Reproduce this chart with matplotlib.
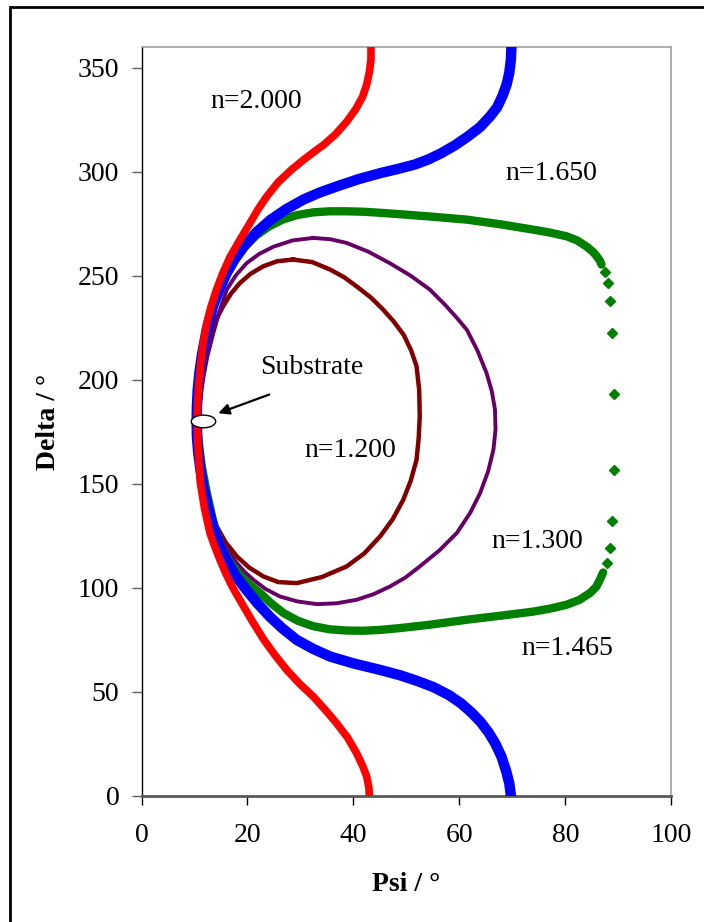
import numpy as np
import matplotlib.pyplot as plt
from matplotlib.patches import Ellipse, Rectangle

plt.rcParams['font.family'] = ['Liberation Serif', 'DejaVu Serif']

# n=2.000 (red)
red_psi = [43.3, 43.3, 43.0, 42.5, 41.7, 40.4, 38.7, 36.6, 34.4, 33.3, 30.7, 28.3, 25.8, 23.6,
           22.0, 20.5, 18.5, 16.7, 15.3, 14.1, 13.1, 12.3, 11.6, 11.1, 10.8, 10.6, 10.5,
           10.6, 10.8, 11.1, 11.9, 12.9, 13.8, 14.8, 15.9, 17.1, 18.9, 20.9, 23.1, 25.1,
           27.4, 29.8, 32.4, 34.8, 36.8, 38.9, 40.6, 41.8, 42.5, 42.9, 43.0]
red_delta = [360, 354, 348, 342, 336, 330, 324, 318, 313, 311, 306, 301, 295, 288,
             282, 275.5, 267, 259, 251, 243, 235, 227, 217, 206.5, 198, 190, 180,
             170, 162, 150.5, 138, 126.5, 120, 113.5, 107, 100.7, 92.7, 84, 75, 68,
             60.6, 54, 47.8, 41, 35, 28, 20.5, 14, 9.3, 4, 0]

# n=1.650 (blue)
blue_psi = [69.8, 69.7, 69.4, 68.9, 68.1, 67.1, 65.8, 63.9, 61.6, 59.2, 56.6, 54.2, 51.6,
            48.6, 45.3, 41.0, 36.9, 33.6, 30.6, 27.3, 24.4, 21.7, 19.3, 17.6, 16.1, 14.7,
            13.5, 12.3, 11.4, 10.9, 10.6, 10.45, 10.4, 10.45, 10.7, 11.1, 11.7, 12.6, 13.9,
            14.9, 16.0, 17.7, 19.8, 21.9, 24.2, 26.6, 29.3, 32.3, 35.6, 40.0, 45.0, 48.8,
            52.0, 55.1, 58.0, 60.3, 62.3, 64.0, 65.5, 66.8, 67.9, 68.8, 69.4, 69.7]
blue_delta = [360, 354, 347.6, 342, 336.4, 331, 326.7, 321.5, 317, 312.8, 309, 306, 303.5,
              301.5, 299.5, 296.5, 293, 290, 286.7, 282, 277, 271, 264, 258, 251.4, 243.5,
              235.4, 224, 212, 203, 195, 187, 180, 173, 165, 157, 148, 138, 126,
              119, 113.5, 106, 99, 92.5, 86.2, 80.5, 75, 70.8, 67, 63.7, 60.6, 58.0,
              55.3, 52.3, 48.5, 44.5, 40.0, 35.5, 30.5, 25.0, 19.0, 12.0, 6.0, 0]

# n=1.465 (green) - dense part of the trajectory
green_psi = [86.8, 86.5, 85.9, 85.2, 84.0, 82.2, 80.2, 77.0, 73.9, 67.6, 61.4, 54.4, 48.8,
             45.0, 41.8, 38.7, 35.5, 32.4, 29.4, 26.8, 24.1, 21.7, 19.0, 16.7, 14.8, 13.6,
             12.5, 11.6, 10.9, 10.6, 10.6, 10.8, 11.4, 12.3, 13.7, 15.0, 16.5, 18.6, 20.4,
             22.4, 24.5, 26.8, 29.5, 32.4, 35.5, 38.7, 41.8, 45.0, 48.8, 54.4, 61.4, 67.6,
             73.9, 77.2, 80.2, 82.6, 84.6, 85.8, 86.5, 87.1]
green_delta = [255.4, 257.2, 259.4, 261.5, 264, 267, 269, 270.8, 272.2, 274.8, 277, 278.5, 279.6,
               280.3, 280.8, 281, 281, 280.5, 279.2, 277.2, 273.8, 269.5, 263, 256, 247, 236,
               224, 212, 200, 190, 180, 170, 158, 146, 130, 120, 113, 106, 101.5,
               97.5, 92.5, 87.9, 84.2, 81.6, 80.1, 79.5, 79.4, 79.8, 80.7, 82.3, 84.7, 86.6,
               88.6, 90.1, 91.9, 94.2, 97.5, 100.5, 104, 107.4]
# n=1.465 (green) - sparse points on the right
green_sparse_psi = [87.5, 88.0, 88.4, 88.8, 89.2, 89.2, 88.8, 88.4, 87.9]
green_sparse_delta = [251.7, 246.6, 237.8, 222.6, 193.4, 156.8, 132.0, 119.1, 112.0]

# n=1.300 (purple)
purple_psi = [32.4, 35.6, 38.7, 42.8, 46.9, 50.7, 54.4, 57.3, 59.6, 61.4, 63.4, 65.1, 66.1,
              66.7, 66.8, 66.4, 65.4, 63.9, 62.0, 59.5, 56.2, 52.5, 49.8, 46.9, 43.8, 40.6,
              36.8, 33.1, 29.4, 26.1, 23.4, 21.1, 19.4, 18.0, 16.2, 14.6, 13.3, 12.3, 11.5,
              11.0, 10.8, 10.8, 11.1, 11.6, 12.4, 13.5, 14.6, 16.1, 17.8, 19.8, 22.2, 24.9,
              28.5, 32.4]
purple_delta = [268.2, 267.6, 265.8, 261.6, 256, 250.2, 243.4, 236, 229.5, 224, 214, 203.3, 194.5,
                185.7, 176, 166.4, 156, 145.6, 136, 126.4, 118, 110.3, 105, 100.7, 97, 94.3,
                92.6, 92.2, 93.5, 95.9, 99.5, 103.9, 107.8, 111.9, 118, 125, 132.5, 140, 150,
                160, 170, 180, 190, 200, 211, 222, 232, 243.4, 250.2, 256, 260.5, 264,
                267, 268.2]

# n=1.200 (brown)
brown_psi = [28.6, 32.2, 35.6, 38.3, 40.8, 43.3, 45.5, 47.6, 49.5, 50.9, 51.9, 52.4, 52.5,
             52.3, 51.9, 50.8, 49.4, 47.4, 45.0, 42.0, 38.7, 34.0, 29.3, 25.8, 23.0, 20.3,
             18.0, 15.9, 14.2, 13.1, 12.3, 11.6, 11.1, 10.9, 10.9, 11.1, 11.6, 12.3, 13.5,
             15.4, 16.9, 18.6, 20.6, 23.0, 25.6, 28.6]
brown_delta = [257.8, 256.6, 253, 249.2, 244.5, 239.5, 234, 228, 221.5, 214, 206.5, 195, 182.4,
               172, 161.6, 151.5, 142.4, 133, 124.7, 116.5, 110.3, 105.2, 102.3, 102.8, 105.5, 109.8,
               115.1, 121.8, 129.5, 137.2, 145.6, 155, 165, 175, 185, 195, 205, 214, 226,
               235.4, 241.5, 246.6, 251, 254.6, 257, 257.8]

substrate_psi = 11.7
substrate_delta = 180.0

labels = ["n=2.000", "n=1.650", "n=1.200", "n=1.300", "n=1.465"]
label_psi = [21.6, 77.3, 39.3, 74.7, 80.4]
label_delta = [334.0, 299.0, 166.0, 122.4, 70.7]

fig = plt.figure(figsize=(7.04, 9.22), dpi=100)
ax = fig.add_axes([0.2010, 0.1367, 0.7528, 0.8124])

ax.plot(brown_psi, brown_delta, color='#800000', lw=3.2, solid_joinstyle='round', zorder=2)
ax.plot(purple_psi, purple_delta, color='#660066', lw=2.8, solid_joinstyle='round', zorder=3)
ax.plot(green_psi, green_delta, color='#008000', lw=6, solid_joinstyle='round',
        solid_capstyle='round', zorder=4)
ax.plot(green_sparse_psi, green_sparse_delta, 'D', color='#008000', ms=5, mec='#008000', zorder=4)
ax.plot(blue_psi, blue_delta, color='#0000FF', lw=7.5, solid_joinstyle='round', zorder=5)
ax.plot(red_psi, red_delta, color='#FF0000', lw=5.5, solid_joinstyle='round', zorder=6)

ax.add_patch(Ellipse((substrate_psi, substrate_delta), 4.6, 6.1, facecolor='white',
                     edgecolor='black', lw=1.0, zorder=7))
ax.annotate('', xy=(14.0, 183.5), xytext=(24.6, 193.4),
            arrowprops=dict(arrowstyle='-|>', color='black', lw=1.6, mutation_scale=16), zorder=8)
ax.text(32.1, 206.0, "Substrate", ha='center', va='center', fontsize=20)

for s, x, y in zip(labels, label_psi, label_delta):
    ax.text(x, y, s, ha='center', va='center', fontsize=20)

ax.set_xlim(0, 100)
ax.set_ylim(0, 360)
ax.set_xticks(np.arange(0, 101, 20))
ax.set_yticks(np.arange(0, 351, 50))
ax.tick_params(axis='both', labelsize=20, direction='out')
ax.tick_params(axis='y', length=7, width=1, color='#606060', pad=9)
ax.tick_params(axis='x', length=6.5, width=1, color='black', pad=13)

ax.spines['left'].set_color('black')
ax.spines['left'].set_linewidth(1.0)
ax.spines['bottom'].set_color('#595959')
ax.spines['bottom'].set_linewidth(2.0)
ax.spines['top'].set_color('#a0a0a0')
ax.spines['top'].set_linewidth(1.2)
ax.spines['right'].set_color('#a0a0a0')
ax.spines['right'].set_linewidth(1.2)

ax.set_xlabel("Psi / °", fontsize=20, fontweight='bold')
ax.set_ylabel("Delta / °", fontsize=20, fontweight='bold')
ax.xaxis.set_label_coords(0.5, -0.102)
ax.yaxis.set_label_coords(-0.152, 0.5)

# frame round the figure
fig.patches.append(Rectangle((10 / 704, -0.05), 1.0, 915 / 922 + 0.05, transform=fig.transFigure,
                             fill=False, lw=2.0, edgecolor='black'))

fig.savefig('out.png', dpi=100)
